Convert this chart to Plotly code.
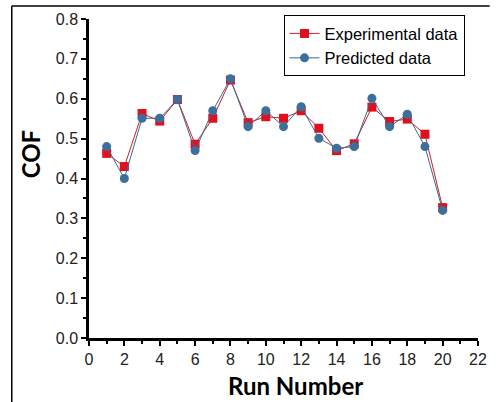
import plotly.graph_objects as go

run = list(range(1, 21))
experimental = [0.463, 0.430, 0.563, 0.544, 0.598, 0.486, 0.551, 0.647, 0.540, 0.555,
                0.551, 0.570, 0.526, 0.470, 0.487, 0.579, 0.543, 0.549, 0.511, 0.327]
predicted = [0.480, 0.400, 0.551, 0.551, 0.598, 0.470, 0.570, 0.650, 0.530, 0.570,
             0.530, 0.580, 0.501, 0.476, 0.480, 0.601, 0.530, 0.561, 0.480, 0.320]

fig = go.Figure()
fig.add_trace(go.Scatter(
    x=run, y=experimental, name="Experimental data", mode="lines+markers",
    line=dict(color="#c8202a", width=1),
    marker=dict(symbol="square", size=9, color="#e0101e"),
))
fig.add_trace(go.Scatter(
    x=run, y=predicted, name="Predicted data", mode="lines+markers",
    line=dict(color="#3a6a8e", width=1),
    marker=dict(symbol="circle", size=9, color="#3b6f9c"),
))

axis_common = dict(
    showline=True, linecolor="black", linewidth=2.5, showgrid=False, zeroline=False,
    ticks="outside", ticklen=5, tickwidth=2, tickcolor="black",
    tickfont=dict(family="Liberation Sans, Arial", size=16, color="#222"),
)
fig.update_xaxes(
    range=[0, 22], dtick=2, tick0=0,
    minor=dict(ticks="outside", ticklen=3, tickwidth=2, dtick=1, tickcolor="black"),
    **axis_common,
)
fig.update_yaxes(
    range=[0, 0.8], dtick=0.1, tick0=0, tickformat=".1f",
    minor=dict(ticks="outside", ticklen=3, tickwidth=2, dtick=0.05, tickcolor="black"),
    **axis_common,
)

title_font = dict(family="Lato, Open Sans", size=24, color="black")
fig.update_layout(
    width=496, height=402,
    margin=dict(l=89, r=9, t=19, b=64),
    paper_bgcolor="white", plot_bgcolor="white",
    showlegend=True,
    legend=dict(
        x=0.5, y=1.012, xanchor="left", yanchor="top",
        bordercolor="black", borderwidth=1, bgcolor="white",
        font=dict(family="Liberation Sans, Arial", size=16.5, color="black"),
        tracegroupgap=0, itemwidth=30,
    ),
    annotations=[
        dict(text="<b>Run Number</b>", xref="paper", yref="paper",
             x=(300 - 89) / 398, y=(338 - 386) / 319, xanchor="center", yanchor="middle",
             showarrow=False, font=title_font),
        dict(text="<b>COF</b>", xref="paper", yref="paper", textangle=-90,
             x=(29 - 89) / 398, y=(338 - 154) / 319, xanchor="center", yanchor="middle",
             showarrow=False, font=title_font),
    ],
    shapes=[
        dict(type="line", xref="paper", yref="paper", x0=-0.1985, x1=1.03, y0=1.041, y1=1.041,
             line=dict(color="black", width=1.5)),
        dict(type="line", xref="paper", yref="paper", x0=-0.1985, x1=-0.1985, y0=1.041, y1=-0.21,
             line=dict(color="black", width=1.5)),
    ],
)

fig.write_html("out.html")
